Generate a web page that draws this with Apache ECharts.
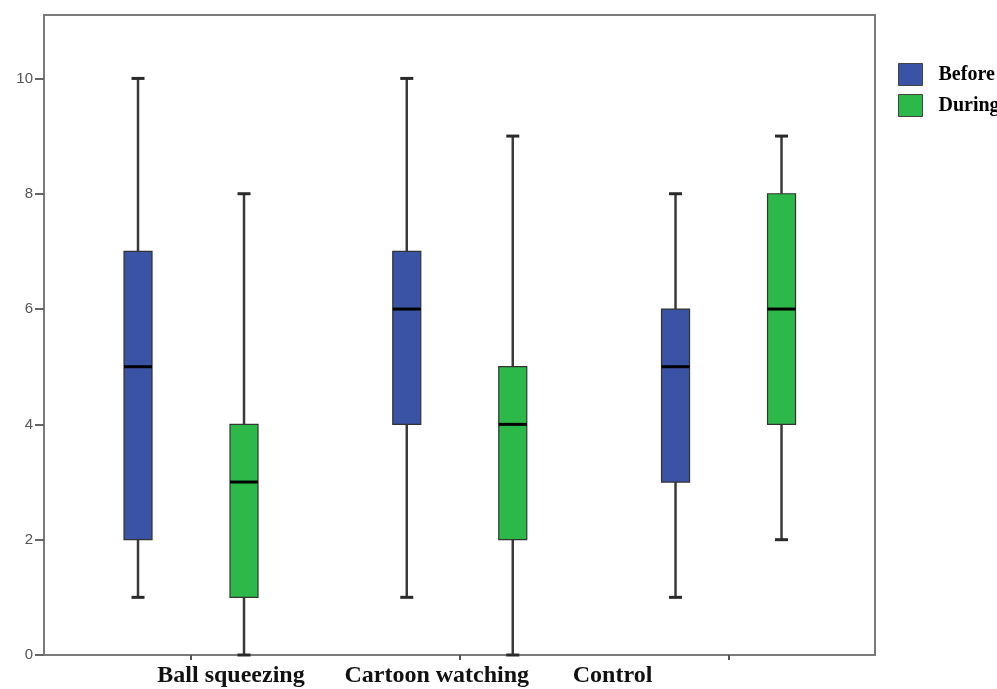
<!DOCTYPE html>
<html>
<head>
<meta charset="utf-8">
<script src="https://cdn.jsdelivr.net/npm/echarts@6/dist/echarts.min.js"></script>
<style>
html,body{margin:0;padding:0;background:#fff;}
#chart{width:997px;height:689px;}
</style>
</head>
<body>
<div id="chart"></div>
<script>
// ---- data ----
const categories = ['Ball squeezing', 'Cartoon watching', 'Control'];
const seriesNames = ['Before', 'During'];
// [min, Q1, median, Q3, max] per category
const beforeStats = [
  [1, 2, 5, 7, 10],
  [1, 4, 6, 7, 10],
  [1, 3, 5, 6, 8]
];
const duringStats = [
  [0, 1, 3, 4, 8],
  [0, 2, 4, 5, 9],
  [2, 4, 6, 8, 9]
];
const yTicks = [0, 2, 4, 6, 8, 10];

// ---- styles ----
const colors = ['#3A53A4', '#2DB94A'];
const groupOffsetPx = [-53, 53];
const boxHalf = 14;
const capHalf = 6.5;

function toData(stats) {
  return stats.map((s, i) => [i].concat(s));
}

function makeRender(k) {
  return function (params, api) {
    const x = api.value(0);
    const v = [1, 2, 3, 4, 5].map(i => api.value(i));
    const base = api.coord([x, v[0]]);
    const cx = base[0] + groupOffsetPx[k];
    const y = v.map(val => api.coord([x, val])[1]);
    const wStyle = { stroke: '#3a3a3a', lineWidth: 2.5 };
    const cStyle = { stroke: '#2a2a2a', lineWidth: 3 };
    return {
      type: 'group',
      children: [
        { type: 'line', shape: { x1: cx, y1: y[0], x2: cx, y2: y[1] }, style: wStyle },
        { type: 'line', shape: { x1: cx, y1: y[3], x2: cx, y2: y[4] }, style: wStyle },
        { type: 'line', shape: { x1: cx - capHalf, y1: y[0], x2: cx + capHalf, y2: y[0] }, style: cStyle },
        { type: 'line', shape: { x1: cx - capHalf, y1: y[4], x2: cx + capHalf, y2: y[4] }, style: cStyle },
        { type: 'rect', shape: { x: cx - boxHalf, y: y[3], width: boxHalf * 2, height: y[1] - y[3] },
          style: { fill: colors[k], stroke: '#333', lineWidth: 1.2 } },
        { type: 'line', shape: { x1: cx - boxHalf, y1: y[2], x2: cx + boxHalf, y2: y[2] },
          style: { stroke: '#000', lineWidth: 3 } }
      ]
    };
  };
}

const labelRich = {
  c0: { padding: [0, 0, 0, 80] },
  c1: { padding: [0, 46, 0, 0] },
  c2: { padding: [0, 232, 0, 0] }
};

const chart = echarts.init(document.getElementById('chart'), null, { renderer: 'canvas' });
chart.setOption({
  animation: false,
  backgroundColor: '#fff',
  grid: {
    left: 44, right: 122, top: 15, bottom: 34,
    show: true, borderColor: '#7a7a7a', borderWidth: 2, backgroundColor: '#fff'
  },
  legend: {
    orient: 'vertical',
    left: 893, top: 58,
    itemWidth: 24, itemHeight: 22, itemGap: 8,
    icon: 'rect',
    data: seriesNames.map((n, k) => ({
      name: n,
      itemStyle: { color: colors[k], borderColor: '#444', borderWidth: 1 }
    })),
    textStyle: {
      fontFamily: 'Liberation Serif', fontWeight: 'bold', fontSize: 20, color: '#000',
      padding: [2, 0, 0, 11]
    }
  },
  xAxis: {
    type: 'value',
    min: -0.547, max: 2.545,
    splitLine: { show: false },
    axisLine: { show: true, onZero: false, lineStyle: { color: '#7a7a7a', width: 2 } },
    axisTick: { show: true, length: 5, customValues: [0, 1, 2], lineStyle: { color: '#555', width: 2 } },
    axisLabel: {
      customValues: [0, 1, 2],
      margin: 9,
      formatter: v => '{c' + v + '|' + categories[v] + '}',
      rich: labelRich,
      fontFamily: 'Liberation Serif', fontWeight: 'bold', fontSize: 24, color: '#111'
    }
  },
  yAxis: {
    type: 'value',
    min: 0, max: 11.1,
    splitLine: { show: false },
    axisLine: { show: true, onZero: false, lineStyle: { color: '#7a7a7a', width: 2 } },
    axisTick: { show: true, length: 9, customValues: yTicks, lineStyle: { color: '#666', width: 2 } },
    axisLabel: {
      customValues: yTicks,
      margin: 11,
      fontFamily: 'Liberation Sans', fontSize: 15, color: '#555'
    }
  },
  series: [beforeStats, duringStats].map((stats, k) => ({
    name: seriesNames[k],
    type: 'custom',
    clip: false,
    itemStyle: { color: colors[k] },
    encode: { x: 0, y: [1, 2, 3, 4, 5] },
    renderItem: makeRender(k),
    data: toData(stats)
  }))
});
</script>
</body>
</html>
